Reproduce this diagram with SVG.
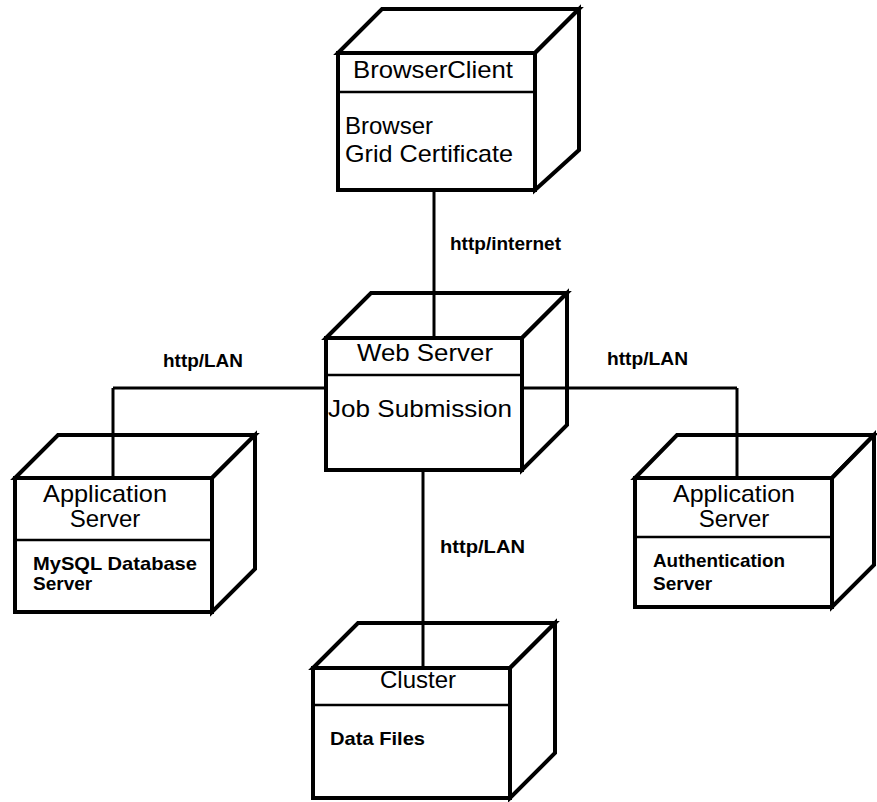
<svg xmlns="http://www.w3.org/2000/svg" width="877" height="802" viewBox="0 0 877 802">
  <style>
    .face { fill: #ffffff; stroke: #000000; stroke-width: 4; stroke-linejoin: miter; }
    .sep { stroke: #000000; stroke-width: 2.5; fill: none; }
    .wire { stroke: #000000; stroke-width: 3; fill: none; }
    .title { font-family: "Liberation Sans", Arial, sans-serif; font-size: 24px; fill: #000000; text-anchor: middle; }
    .body { font-family: "Liberation Sans", Arial, sans-serif; font-size: 24px; fill: #000000; }
    .small { font-family: "Liberation Sans", Arial, sans-serif; font-size: 19px; font-weight: bold; fill: #000000; }
    .lbl { font-family: "Liberation Sans", Arial, sans-serif; font-size: 19px; font-weight: bold; fill: #000000; }
  </style>
  <rect width="877" height="802" fill="#ffffff"/>

  <!-- browser client node -->
  <g id="browser-client">
    <polygon class="face" points="338,53 382,9 579,9 535,53"/>
    <polygon class="face" points="535,53 579,9 579,150 535,190"/>
    <rect class="face" x="338" y="53" width="197" height="137"/>
    <line class="sep" x1="338" y1="92" x2="535" y2="92"/>
    <text class="title" x="433" y="78" textLength="160" lengthAdjust="spacingAndGlyphs">BrowserClient</text>
    <text class="body" x="345" y="134">Browser</text>
    <text class="body" x="345" y="162" textLength="168" lengthAdjust="spacingAndGlyphs">Grid Certificate</text>
  </g>

  <!-- web server node -->
  <g id="web-server">
    <polygon class="face" points="326,338 371,293 567,293 522,338"/>
    <polygon class="face" points="522,338 567,293 567,425 522,470"/>
    <rect class="face" x="326" y="338" width="196" height="132"/>
    <line class="sep" x1="326" y1="375" x2="522" y2="375"/>
    <text class="title" x="425" y="361" textLength="136" lengthAdjust="spacingAndGlyphs">Web Server</text>
    <text class="body" x="328" y="417" textLength="184" lengthAdjust="spacingAndGlyphs">Job Submission</text>
  </g>

  <!-- application server (database) node -->
  <g id="app-server-db">
    <polygon class="face" points="15,478 58,435 255,435 212,478"/>
    <polygon class="face" points="212,478 255,435 255,569 212,612"/>
    <rect class="face" x="15" y="478" width="197" height="134"/>
    <line class="sep" x1="15" y1="540" x2="212" y2="540"/>
    <text class="title" x="105" y="502" textLength="124" lengthAdjust="spacingAndGlyphs">Application</text>
    <text class="title" x="105" y="527">Server</text>
    <text class="small" x="33" y="570" textLength="164" lengthAdjust="spacingAndGlyphs">MySQL Database</text>
    <text class="small" x="33" y="590">Server</text>
  </g>

  <!-- application server (authentication) node -->
  <g id="app-server-auth">
    <polygon class="face" points="635,478 677,435 874,435 832,478"/>
    <polygon class="face" points="832,478 874,435 874,565 832,607"/>
    <rect class="face" x="635" y="478" width="197" height="129"/>
    <line class="sep" x1="635" y1="537" x2="832" y2="537"/>
    <text class="title" x="734" y="502" textLength="122" lengthAdjust="spacingAndGlyphs">Application</text>
    <text class="title" x="734" y="527">Server</text>
    <text class="small" x="653" y="567" textLength="132" lengthAdjust="spacingAndGlyphs">Authentication</text>
    <text class="small" x="653" y="590">Server</text>
  </g>

  <!-- cluster node -->
  <g id="cluster">
    <polygon class="face" points="313,668 358,623 555,623 510,668"/>
    <polygon class="face" points="510,668 555,623 555,753 510,798"/>
    <rect class="face" x="313" y="668" width="197" height="130"/>
    <line class="sep" x1="313" y1="705" x2="510" y2="705"/>
    <text class="title" x="418" y="688">Cluster</text>
    <text class="small" x="330" y="745" textLength="95" lengthAdjust="spacingAndGlyphs">Data Files</text>
  </g>

  <!-- connectors: drawn over the top and side faces, ending at the front faces -->
  <g id="connectors">
    <line class="wire" x1="434" y1="190" x2="434" y2="338"/>
    <line class="wire" x1="113" y1="388" x2="326" y2="388"/>
    <line class="wire" x1="113" y1="388" x2="113" y2="478"/>
    <line class="wire" x1="522" y1="388" x2="737" y2="388"/>
    <line class="wire" x1="737" y1="388" x2="737" y2="478"/>
    <line class="wire" x1="423" y1="470" x2="423" y2="668"/>
    <text class="lbl" x="450" y="250" textLength="111" lengthAdjust="spacingAndGlyphs">http/internet</text>
    <text class="lbl" x="163" y="367" textLength="80" lengthAdjust="spacingAndGlyphs">http/LAN</text>
    <text class="lbl" x="607" y="365" textLength="81" lengthAdjust="spacingAndGlyphs">http/LAN</text>
    <text class="lbl" x="440" y="553" textLength="85" lengthAdjust="spacingAndGlyphs">http/LAN</text>
  </g>
</svg>
